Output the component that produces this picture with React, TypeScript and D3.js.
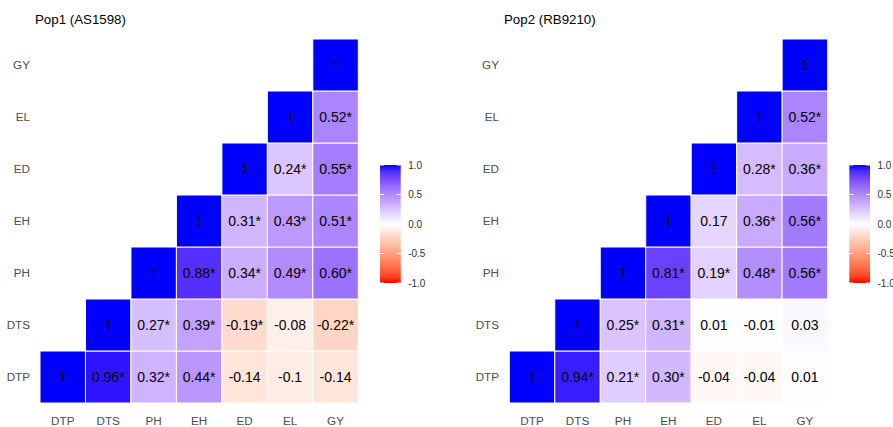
import React from 'react'
import * as d3 from 'd3'

const traits = ['DTP', 'DTS', 'PH', 'EH', 'ED', 'EL', 'GY']

// one row per trait (bottom to top), values from the diagonal to the right
const pop1Rows = [
  ['1', '0.96*', '0.32*', '0.44*', '-0.14', '-0.1', '-0.14'],
  ['1', '0.27*', '0.39*', '-0.19*', '-0.08', '-0.22*'],
  ['1', '0.88*', '0.34*', '0.49*', '0.60*'],
  ['1', '0.31*', '0.43*', '0.51*'],
  ['1', '0.24*', '0.55*'],
  ['1', '0.52*'],
  ['1']
]

const pop2Rows = [
  ['1', '0.94*', '0.21*', '0.30*', '-0.04', '-0.04', '0.01'],
  ['1', '0.25*', '0.31*', '0.01', '-0.01', '0.03'],
  ['1', '0.81*', '0.19*', '0.48*', '0.56*'],
  ['1', '0.17', '0.36*', '0.56*'],
  ['1', '0.28*', '0.36*'],
  ['1', '0.52*'],
  ['1']
]

const legendTicks = [1, 0.5, 0, -0.5, -1]

const panels = [
  { title: 'Pop1 (AS1598)', rows: pop1Rows, x0: 40, titleX: 35, labelX: 30, legendX: 380 },
  { title: 'Pop2 (RB9210)', rows: pop2Rows, x0: 509.3, titleX: 504, labelX: 499, legendX: 849.3 }
]

const W = 893
const H = 427
const cellW = 45.47
const top = 39
const bottom = 403

const fill = (v: number) =>
  v >= 0 ? d3.interpolateLab('#FFFFFF', '#0000FF')(v) : d3.interpolateLab('#FFFFFF', '#FF0000')(-v)

const font = '"Liberation Sans", Arial, sans-serif'

function Panel({ p, gid }: { p: typeof panels[0]; gid: string }) {
  const x = d3.scaleBand().domain(traits).range([p.x0, p.x0 + cellW * traits.length])
  const y = d3.scaleBand().domain([...traits].reverse()).range([top, bottom])
  const cells = p.rows.flatMap((row, ri) =>
    row.map((label, k) => ({ row: traits[ri], col: traits[ri + k], label, v: parseFloat(label) }))
  )
  const ly = d3.scaleLinear().domain([-1, 1]).range([283, 165])
  const lw = 20.7
  const stops = d3.range(-1, 1.001, 0.1)
  return (
    <g>
      <text x={p.titleX} y={24} fontSize={13.3} fill="#000">{p.title}</text>
      {cells.map((c, i) => (
        <g key={i}>
          <rect x={x(c.col)} y={y(c.row)} width={x.bandwidth()} height={y.bandwidth()}
            fill={fill(c.v)} stroke="#FFFFFF" strokeWidth={1} />
          <text x={x(c.col)! + x.bandwidth() / 2} y={y(c.row)! + y.bandwidth() / 2}
            dy="0.36em" textAnchor="middle" fontSize={14} fill="#000">{c.label}</text>
        </g>
      ))}
      {traits.map(t => (
        <text key={'y' + t} x={p.labelX} y={y(t)! + y.bandwidth() / 2} dy="0.36em"
          textAnchor="end" fontSize={11.7} fill="#4D4D4D">{t}</text>
      ))}
      {traits.map(t => (
        <text key={'x' + t} x={x(t)! + x.bandwidth() / 2} y={425}
          textAnchor="middle" fontSize={11.7} fill="#4D4D4D">{t}</text>
      ))}
      <defs>
        <linearGradient id={gid} x1="0" y1="1" x2="0" y2="0">
          {stops.map((s, i) => (
            <stop key={i} offset={(s + 1) / 2} stopColor={fill(s)} />
          ))}
        </linearGradient>
      </defs>
      <rect x={p.legendX} y={ly(1)} width={lw} height={ly(-1) - ly(1)} fill={`url(#${gid})`} />
      {legendTicks.map(t => (
        <g key={'l' + t}>
          <line x1={p.legendX} x2={p.legendX + 4} y1={ly(t)} y2={ly(t)} stroke="#FFFFFF" />
          <line x1={p.legendX + lw - 4} x2={p.legendX + lw} y1={ly(t)} y2={ly(t)} stroke="#FFFFFF" />
          <text x={p.legendX + lw + 7.5} y={ly(t)} dy="0.36em" fontSize={10} fill="#333333">
            {t.toFixed(1)}
          </text>
        </g>
      ))}
    </g>
  )
}

export default function App() {
  return (
    <svg width={W} height={H} style={{ position: 'absolute', left: 0, top: 0, background: '#fff' }}
      fontFamily={font}>
      <rect width={W} height={H} fill="#FFFFFF" />
      {panels.map((p, i) => <Panel key={i} p={p} gid={'grad' + i} />)}
    </svg>
  )
}
